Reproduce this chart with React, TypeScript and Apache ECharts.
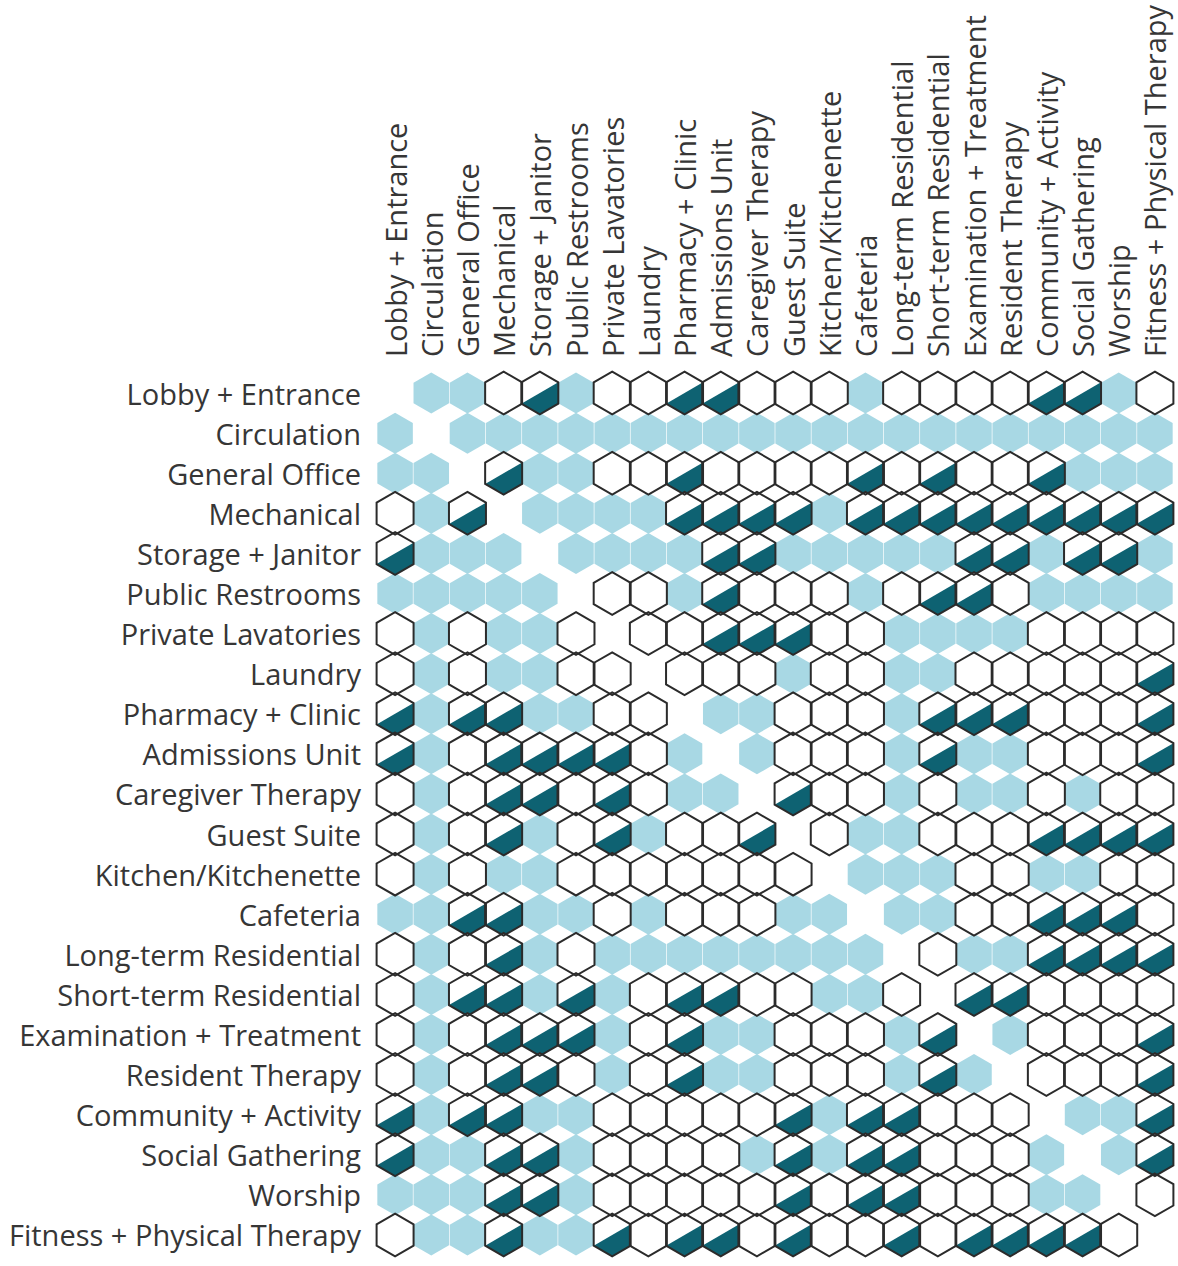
import React, { useEffect, useRef } from "react";
import * as echarts from "echarts";

// Spaces (used for both rows and columns)
const spaces = [
  "Lobby + Entrance",
  "Circulation",
  "General Office",
  "Mechanical",
  "Storage + Janitor",
  "Public Restrooms",
  "Private Lavatories",
  "Laundry",
  "Pharmacy + Clinic",
  "Admissions Unit",
  "Caregiver Therapy",
  "Guest Suite",
  "Kitchen/Kitchenette",
  "Cafeteria",
  "Long-term Residential",
  "Short-term Residential",
  "Examination + Treatment",
  "Resident Therapy",
  "Community + Activity",
  "Social Gathering",
  "Worship",
  "Fitness + Physical Therapy",
];

// Relationship codes per row: E = none (diagonal), B = light blue, O = open hexagon, H = half-filled hexagon
const relationRows = [
  "EBBOHBOOHHOOOBOOOOHHBO",
  "BEBBBBBBBBBBBBBBBBBBBB",
  "BBEHBBOOHOOOOHOHOOHBBB",
  "OBHEBBBBHHHHBHHHHHHHHH",
  "HBBBEBBBBHHBBBBBHHBHHB",
  "BBBBBEOOBHOOOBOHHOBBBB",
  "OBOBBOEOOHHHOOBBBBOOOO",
  "OBOBBOOEOOOBOOBBOOOOOH",
  "HBHHBBOOEBBOOOBHHHOOOH",
  "HBOHHHHOBEBOOOBHBBOOOH",
  "OBOHHOHOBBEHOOBOBBOBOO",
  "OBOHBOHBOOHEOBBOOOHHHH",
  "OBOBBOOOOOOOEBBBOOBBOO",
  "BBHHBBOBOOOBBEBBOOHHHO",
  "OBOHBOBBBBBBBBEOBBHHHH",
  "OBHHBHBOHHOOBBOEHHOOOO",
  "OBOHHHBOHBBOOOBHEBOOOH",
  "OBOHHOBOHBBOOOBHBEOOOH",
  "HBHHBBOOOOOHBHHOOOEBBH",
  "HBBHHBOOOOBHBHHOOOBEBH",
  "BBBHHBOOOOOHOHHOOOBBEO",
  "OBBHBBHOHHOHOOHOHHHHOE",
];

const codeValue: Record<string, number> = { B: 1, O: 2, H: 3 };

const LIGHT = "#a8d8e4";
const DARK = "#0e6272";
const LINE = "#2b2b2b";
const TEXT = "#363636";
const FONT = "'Open Sans', 'Noto Sans', sans-serif";

function hexPoints(cx: number, cy: number, hw: number, R: number) {
  return [
    [cx, cy - R],
    [cx + hw, cy - R / 2],
    [cx + hw, cy + R / 2],
    [cx, cy + R],
    [cx - hw, cy + R / 2],
    [cx - hw, cy - R / 2],
  ];
}

export default function App() {
  const ref = useRef<HTMLDivElement>(null);

  useEffect(() => {
    if (!ref.current) return;
    const chart = echarts.init(ref.current, undefined, { renderer: "svg" });

    const blueData: number[][] = [];
    const markData: number[][] = [];
    relationRows.forEach((row, r) => {
      row.split("").forEach((ch, c) => {
        const v = codeValue[ch];
        if (!v) return;
        if (v === 1) blueData.push([c, r, v]);
        else markData.push([c, r, v]);
      });
    });

    const geom = (api: any) => {
      const c = api.coord([api.value(0), api.value(1)]);
      const sz = api.size([1, 1]);
      const hw = sz[0] / 2 + 0.4;
      const R = hw / Math.cos(Math.PI / 6);
      return { c, hw, R };
    };

    const option: any = {
      animation: false,
      backgroundColor: "#ffffff",
      grid: { left: 377, top: 373, width: 796, height: 882, containLabel: false },
      xAxis: {
        type: "category",
        position: "top",
        data: spaces,
        axisLine: { show: false },
        axisTick: { show: false },
        splitLine: { show: false },
        axisLabel: {
          rotate: -90,
          interval: 0,
          margin: 16,
          color: TEXT,
          fontFamily: FONT,
          fontSize: 29,
        },
      },
      yAxis: {
        type: "category",
        inverse: true,
        data: spaces,
        axisLine: { show: false },
        axisTick: { show: false },
        splitLine: { show: false },
        axisLabel: {
          interval: 0,
          margin: 16,
          color: TEXT,
          fontFamily: FONT,
          fontSize: 29,
        },
      },
      series: [
        {
          type: "custom",
          data: blueData,
          encode: { x: 0, y: 1 },
          renderItem: (params: any, api: any) => {
            const { c, hw, R } = geom(api);
            const s = 0.96;
            return {
              type: "polygon",
              shape: { points: hexPoints(c[0], c[1], hw * s, R * s) },
              style: { fill: LIGHT, stroke: null },
            };
          },
        },
        {
          type: "custom",
          data: markData,
          encode: { x: 0, y: 1 },
          renderItem: (params: any, api: any) => {
            const { c, hw, R } = geom(api);
            const kind = api.value(2);
            const pts = hexPoints(c[0], c[1], hw, R);
            const children: any[] = [
              { type: "polygon", shape: { points: pts }, style: { fill: "#ffffff", stroke: null } },
            ];
            if (kind === 3) {
              children.push({
                type: "polygon",
                shape: { points: [pts[1], pts[2], pts[3], pts[4]] },
                style: { fill: DARK, stroke: null },
              });
            }
            return { type: "group", children };
          },
        },
        {
          type: "custom",
          data: markData,
          encode: { x: 0, y: 1 },
          renderItem: (params: any, api: any) => {
            const { c, hw, R } = geom(api);
            return {
              type: "polygon",
              shape: { points: hexPoints(c[0], c[1], hw, R) },
              style: { fill: "none", stroke: LINE, lineWidth: 2, lineJoin: "miter" },
            };
          },
        },
      ],
    };

    chart.setOption(option);
    return () => chart.dispose();
  }, []);

  return (
    <div
      ref={ref}
      style={{ position: "absolute", left: 0, top: 0, width: 1178, height: 1266, background: "#fff" }}
    />
  );
}
